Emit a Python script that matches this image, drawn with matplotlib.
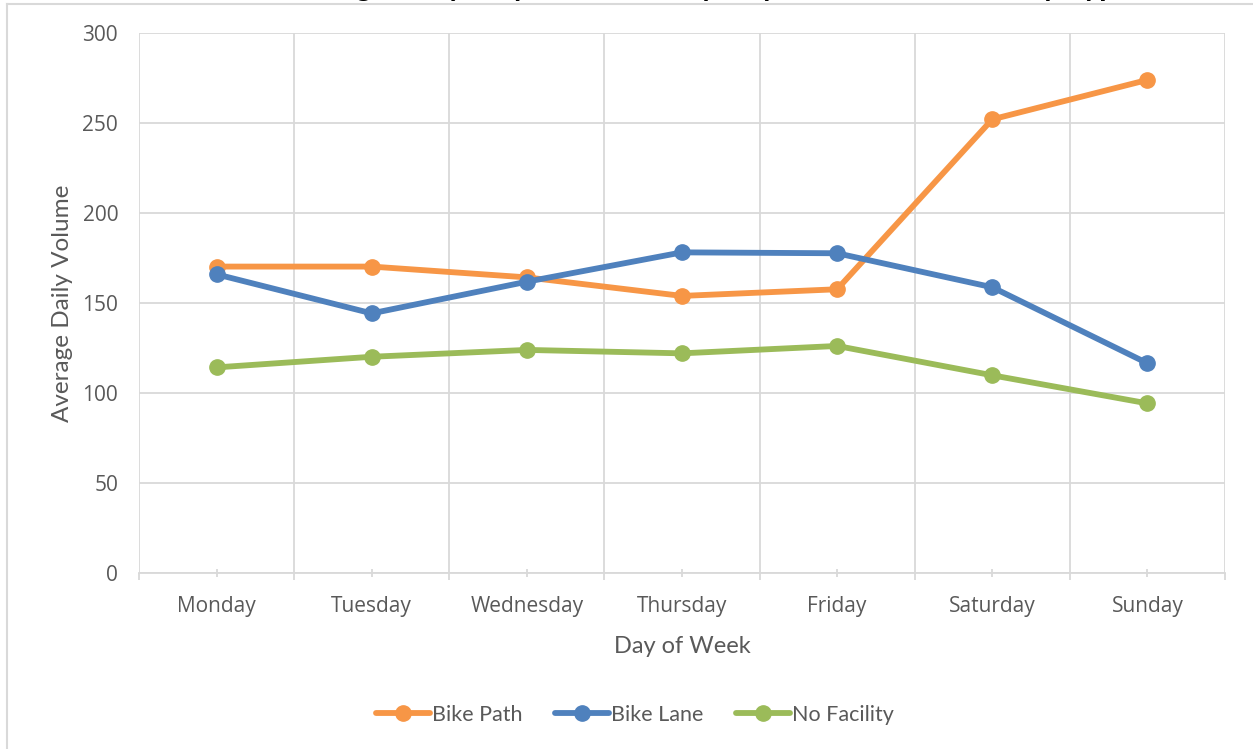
import matplotlib
matplotlib.use("Agg")
import matplotlib.pyplot as plt
from matplotlib.lines import Line2D

days = ["Monday", "Tuesday", "Wednesday", "Thursday", "Friday", "Saturday", "Sunday"]
bike_path = [170.4, 170.4, 164.4, 154.1, 157.8, 252.2, 274.1]
bike_lane = [166.1, 144.4, 162.0, 178.3, 177.8, 158.9, 116.7]
no_facility = [114.4, 120.3, 124.1, 122.2, 126.3, 110.0, 94.4]
series_names = ["Bike Path", "Bike Lane", "No Facility"]
colors = ["#F79646", "#4F81BD", "#9BBB59"]
yticks = [0, 50, 100, 150, 200, 250, 300]

W, H, DPI = 1253, 749, 100
fig = plt.figure(figsize=(W / DPI, H / DPI), dpi=DPI)
fig.patch.set_facecolor("white")

def px2fx(x):
    return x / W

def px2fy(y):
    return 1 - y / H

ax = fig.add_axes([px2fx(139), px2fy(573.3), px2fx(1225 - 139), (573.3 - 33.3) / H])

grid_c = "#D9D9D9"
text_c = "#595959"

x = list(range(len(days)))
for vals, name, c in zip([bike_path, bike_lane, no_facility], series_names, colors):
    ax.plot(x, vals, color=c, lw=4.2, marker="o", ms=11, label=name,
            solid_capstyle="round", zorder=3)

ax.set_xlim(-0.5, len(days) - 0.5)
ax.set_ylim(0, 300)
ax.set_yticks(yticks)
ax.set_xticks(x)
ax.set_xticklabels(days)
ax.set_xticks([i + 0.5 for i in range(-1, len(days))], minor=True)

ax.grid(True, which="major", axis="y", color=grid_c, lw=1.3)
ax.grid(True, which="minor", axis="x", color=grid_c, lw=1.3)
ax.grid(False, which="major", axis="x")
for s in ["top", "right", "left"]:
    ax.spines[s].set_visible(False)
ax.spines["bottom"].set_color(grid_c)
ax.spines["bottom"].set_linewidth(1.3)
ax.set_axisbelow(True)

ax.tick_params(axis="y", length=0, pad=15, labelsize=15, labelcolor=text_c)
ax.tick_params(axis="x", which="major", direction="inout", length=6, width=1.3,
               color=grid_c, pad=13, labelsize=15, labelcolor=text_c)
ax.tick_params(axis="x", which="minor", direction="out", length=5, width=1.3, color=grid_c)
for lab in ax.get_xticklabels() + ax.get_yticklabels():
    lab.set_fontfamily("Open Sans")

ax.set_xlabel("Day of Week", fontsize=17, color=text_c, family="Lato", labelpad=14)
ax.set_ylabel("Average Daily Volume", fontsize=17.5, color=text_c, family="Lato", labelpad=7)

leg = ax.legend(loc="center", bbox_to_anchor=(px2fx(635), px2fy(715)),
                bbox_transform=fig.transFigure, ncol=3, frameon=False,
                prop={"family": "Lato", "size": 15.5}, handlelength=2.5,
                handletextpad=0.1, columnspacing=1.5)
for t in leg.get_texts():
    t.set_color(text_c)

# chart area border (partly cropped)
fig.add_artist(Line2D([px2fx(6.5), px2fx(6.5)], [0, px2fy(4)], color=grid_c, lw=1.5,
                      transform=fig.transFigure))
fig.add_artist(Line2D([px2fx(6.5), 1], [px2fy(4), px2fy(4)], color=grid_c, lw=1.5,
                      transform=fig.transFigure))

# cropped title (only descenders visible in the reference)
fig.text(px2fx(705), px2fy(-3.6), "Average Daily Bicycle Volume by Day of Week and Facility Type",
         ha="center", va="baseline", fontsize=21.5, fontweight="bold", family="Lato", color="#000000")

fig.savefig("out.png", dpi=DPI, facecolor="white")
